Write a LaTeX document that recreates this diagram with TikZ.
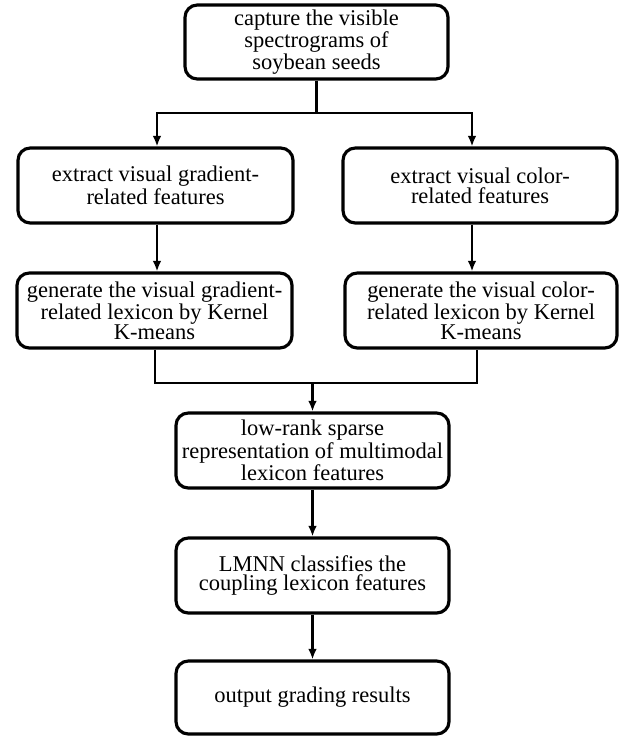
\documentclass[tikz,border=0pt]{standalone}
\usepackage{fontspec}
\setmainfont{Liberation Serif}
\usetikzlibrary{arrows.meta}

\begin{document}
\begin{tikzpicture}[font=\fontsize{12.8}{11.2}\selectfont,
  box/.style={draw, line width=1.8pt, rounded corners=7pt, align=center,
    inner sep=0pt, minimum height=1.5cm},
  line/.style={line width=1.6pt, line join=miter},
  arr/.style={line/.try, -{Latex[length=6pt,width=5pt]}}]
  \useasboundingbox (0,0) rectangle (12.4,-14.72);
  % boxes
  \node[box, minimum width=5.26cm, minimum height=1.48cm] (capture) at (6.33,-0.84)
    {capture the visible\\spectrograms of\\soybean seeds};
  \node[box, minimum width=5.5cm] (gradfeat) at (3.11,-3.71)
    {extract visual gradient-\\related features};
  \node[box, minimum width=5.48cm] (colfeat) at (9.6,-3.71)
    {extract visual color-\\related features};
  \node[box, minimum width=5.5cm] (gradlex) at (3.09,-6.21)
    {generate the visual gradient-\\related lexicon by Kernel\\K-means};
  \node[box, minimum width=5.44cm] (collex) at (9.62,-6.21)
    {generate the visual color-\\related lexicon by Kernel\\K-means};
  \node[box, minimum width=5.46cm] (lowrank) at (6.25,-9.01)
    {low-rank sparse\\representation of multimodal\\lexicon features};
  \node[box, minimum width=5.46cm] (lmnn) at (6.25,-11.51)
    {LMNN classifies the\\coupling lexicon features};
  \node[box, minimum width=5.46cm, minimum height=1.46cm] (output) at (6.25,-13.95)
    {output grading results};
  % split and join points
  \coordinate (splitL) at (3.14,-2.26);
  \coordinate (splitR) at (9.44,-2.26);
  \coordinate (joinL) at (3.1,-7.66);
  \coordinate (joinR) at (9.54,-7.66);
  % connectors
  \draw[line] (capture.south) -- (capture.south |- splitL);
  \draw[line, {Latex[length=6pt,width=5pt]}-{Latex[length=6pt,width=5pt]}]
    (splitL |- gradfeat.north) -- (splitL) -- (splitR) -- (splitR |- colfeat.north);
  \draw[arr] (gradfeat.south -| splitL) -- (gradlex.north -| splitL);
  \draw[arr] (colfeat.south -| splitR) -- (collex.north -| splitR);
  \draw[line] (gradlex.south -| joinL) -- (joinL) -- (joinR) -- (collex.south -| joinR);
  \draw[arr] (lowrank.north |- joinL) -- (lowrank.north);
  \draw[arr] (lowrank.south) -- (lmnn.north);
  \draw[arr] (lmnn.south) -- (output.north);
\end{tikzpicture}
\end{document}
